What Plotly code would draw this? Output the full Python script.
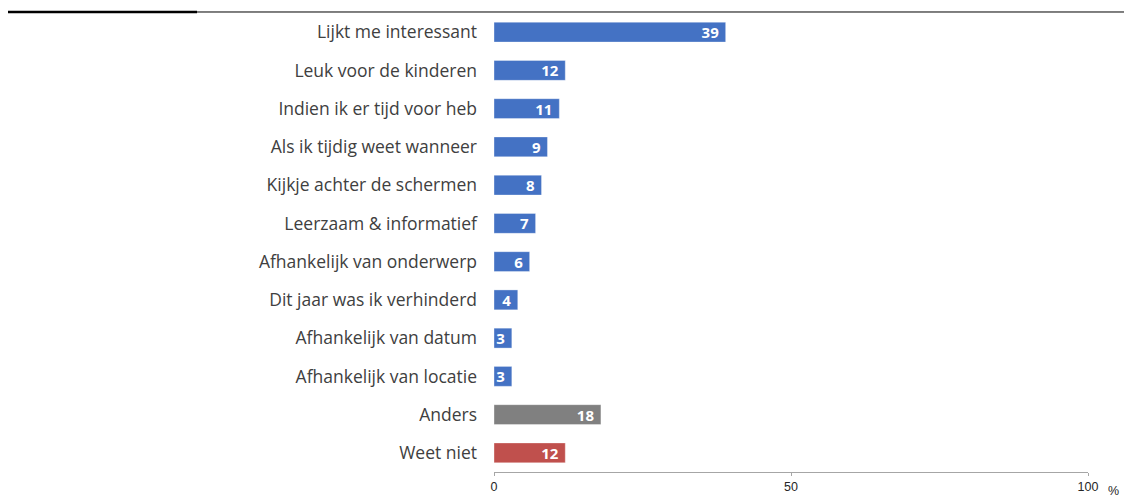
import plotly.graph_objs as go

# answers, top to bottom
categories = [
    'Lijkt me interessant',
    'Leuk voor de kinderen',
    'Indien ik er tijd voor heb',
    'Als ik tijdig weet wanneer',
    'Kijkje achter de schermen',
    'Leerzaam & informatief',
    'Afhankelijk van onderwerp',
    'Dit jaar was ik verhinderd',
    'Afhankelijk van datum',
    'Afhankelijk van locatie',
    'Anders',
    'Weet niet',
]
values = [39, 12, 11, 9, 8, 7, 6, 4, 3, 3, 18, 12]
bar_colors = ['#4472C4'] * 10 + ['#808080', '#C0504D']
x_ticks = [0, 50, 100]

bars = go.Bar(
    x=values,
    y=categories,
    orientation='h',
    marker=dict(color=bar_colors, line=dict(color='rgba(255,255,255,0.35)', width=1)),
    text=values,
    texttemplate='<b>%{text}</b>\u00a0',
    textposition='inside',
    insidetextanchor='end',
    constraintext='none',
    textangle=0,
    textfont=dict(family='Open Sans', size=15, color='white'),
    hoverinfo='x+y',
)

layout = go.Layout(
    width=1124,
    height=492,
    autosize=False,
    plot_bgcolor='white',
    paper_bgcolor='white',
    showlegend=False,
    bargap=0.48,
    margin=dict(l=486, r=44, t=5, b=28, pad=0),
    xaxis=dict(
        range=[0, 100],
        tickvals=x_ticks,
        showgrid=False,
        zeroline=False,
        showline=True,
        linecolor='#A6A6A6',
        linewidth=1,
        ticks='outside',
        ticklen=3,
        tickcolor='#A6A6A6',
        tickfont=dict(family='Liberation Sans', size=12.5, color='#262626'),
    ),
    yaxis=dict(
        categoryorder='array',
        categoryarray=categories[::-1],
        autorange=False,
        range=[-0.5, 11.5],
        showgrid=False,
        zeroline=False,
        showline=False,
        ticks='',
        ticklabelstandoff=16,
        tickfont=dict(family='Open Sans', size=17.5, color='#404040'),
    ),
    annotations=[
        dict(
            text='%', x=1.043, y=-0.0414, xref='paper', yref='paper',
            showarrow=False, xanchor='center', yanchor='middle',
            font=dict(family='Liberation Sans', size=12.5, color='#262626'),
        )
    ],
    shapes=[
        dict(type='line', xref='paper', yref='paper',
             x0=-0.82, x1=1.067, y0=1.0022, y1=1.0022,
             line=dict(color='black', width=1)),
        dict(type='line', xref='paper', yref='paper',
             x0=-0.82, x1=-0.5, y0=1.0022, y1=1.0022,
             line=dict(color='black', width=2.5)),
    ],
)

fig = go.Figure(data=[bars], layout=layout)
fig.write_html('out.html')
